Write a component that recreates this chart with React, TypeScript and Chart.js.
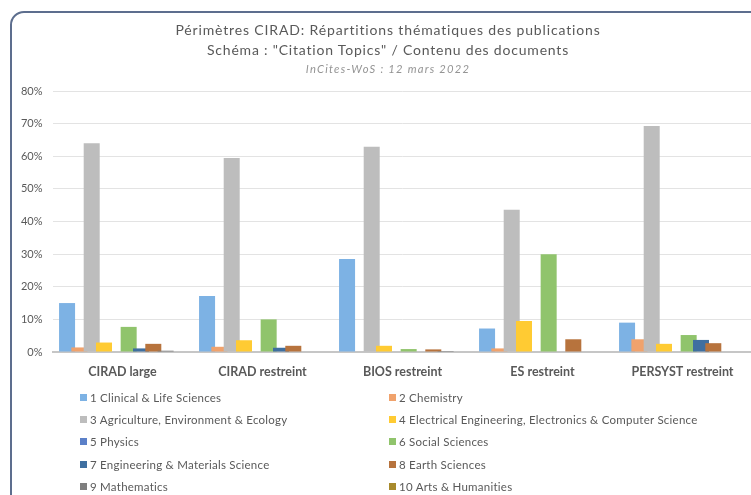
import React, { useEffect, useRef } from "react";
import { Chart, registerables } from "chart.js";

Chart.register(...registerables);

const categories = ["CIRAD large", "CIRAD restreint", "BIOS restreint", "ES restreint", "PERSYST restreint"];

const seriesNames = [
  "1 Clinical & Life Sciences",
  "2 Chemistry",
  "3 Agriculture, Environment & Ecology",
  "4 Electrical Engineering, Electronics & Computer Science",
  "5 Physics",
  "6 Social Sciences",
  "7 Engineering & Materials Science",
  "8 Earth Sciences",
  "9 Mathematics",
  "10 Arts & Humanities",
];

const seriesColors = [
  "#7db2e4",
  "#f0a26c",
  "#bdbdbd",
  "#ffcb33",
  "#5b80c8",
  "#90c46c",
  "#3f6fa0",
  "#b7733d",
  "#7f7f7f",
  "#a88a2c",
];

const clinical = [15.0, 17.2, 28.5, 7.2, 9.0];
const chemistry = [1.4, 1.6, 0, 1.1, 3.9];
const agriculture = [64.0, 59.5, 62.9, 43.6, 69.3];
const electrical = [2.9, 3.6, 1.9, 9.5, 2.5];
const physics = [0, 0, 0, 0, 0];
const social = [7.7, 10.0, 0.9, 30.0, 5.2];
const engineering = [1.1, 1.3, 0, 0, 3.7];
const earth = [2.5, 1.9, 0.8, 3.9, 2.7];
const mathematics = [0.4, 0, 0.3, 0, 0];
const arts = [0, 0, 0, 0, 0];

const seriesValues = [clinical, chemistry, agriculture, electrical, physics, social, engineering, earth, mathematics, arts];

const yMax = 80;
const yStep = 10;

const titleLine1 = "Périmètres CIRAD: Répartitions thématiques des publications";
const titleLine2 = 'Schéma : "Citation Topics" / Contenu des documents';
const subtitleText = "InCites-WoS : 12 mars 2022";

const FONT = "Lato, 'Open Sans', sans-serif";
const TEXT = "#595959";

const legendCols = [80, 389];
const legendRows = [397, 419, 441, 464, 486];

export default function App() {
  const canvasRef = useRef<HTMLCanvasElement | null>(null);

  useEffect(() => {
    const canvas = canvasRef.current;
    if (!canvas) return;

    const forwardDraw = {
      id: "forwardDraw",
      beforeDatasetsDraw(chart: any) {
        const metas = chart.getSortedVisibleDatasetMetas();
        for (const meta of metas) meta.controller.draw();
        return false;
      },
    };

    const chart = new Chart(canvas, {
      type: "bar",
      data: {
        labels: categories,
        datasets: seriesNames.map((name, i) => ({
          label: name,
          data: seriesValues[i],
          backgroundColor: seriesColors[i],
          borderWidth: 0,
          categoryPercentage: 0.88,
          barPercentage: 1.3,
        })),
      },
      options: {
        responsive: false,
        animation: false,
        devicePixelRatio: 1,
        layout: { padding: { left: 0, right: 12.5, top: 91, bottom: 103 } },
        plugins: {
          legend: { display: false },
          tooltip: { enabled: false },
          title: { display: false },
        },
        scales: {
          x: {
            grid: { display: false, drawTicks: false },
            border: { display: true, color: "#c6c6c6", width: 2 },
            ticks: {
              color: TEXT,
              font: { family: FONT, size: 12.5, weight: "bold" },
              padding: 12,
              maxRotation: 0,
              autoSkip: false,
            },
            afterFit(scale: any) {
              scale.height = 40;
            },
          },
          y: {
            min: 0,
            max: yMax,
            grid: { color: "#e3e3e3", lineWidth: 1, drawTicks: false },
            border: { display: false },
            ticks: {
              stepSize: yStep,
              color: TEXT,
              font: { family: FONT, size: 11 },
              padding: 10,
              callback: (v: any) => `${v}%`,
            },
            afterFit(scale: any) {
              scale.width = 52.5;
            },
          },
        },
      },
      plugins: [forwardDraw],
    });

    return () => chart.destroy();
  }, []);

  const titleStyle = (top: number, size: number, spacing: number, extra: any = {}) => ({
    position: "absolute" as const,
    left: 0,
    width: 776,
    top: top - 10,
    height: 20,
    lineHeight: "20px",
    textAlign: "center" as const,
    whiteSpace: "nowrap" as const,
    fontFamily: FONT,
    fontSize: size,
    letterSpacing: spacing,
    color: TEXT,
    ...extra,
  });

  return (
    <div
      style={{
        position: "fixed",
        left: 0,
        top: 0,
        width: 751,
        height: 495,
        overflow: "hidden",
        background: "#ffffff",
      }}
    >
      <div
        style={{
          position: "absolute",
          left: 10,
          top: 11,
          width: 800,
          height: 600,
          border: "2px solid #5d6e8e",
          borderRadius: 14,
          boxSizing: "border-box",
        }}
      />
      <canvas
        ref={canvasRef}
        width={765}
        height={495}
        style={{ position: "absolute", left: 0, top: 0, width: 765, height: 495 }}
      />
      <div style={titleStyle(30, 14, 0.85)}>{titleLine1}</div>
      <div style={titleStyle(50, 14, 0.8)}>{titleLine2}</div>
      <div style={titleStyle(69, 11.2, 1.25, { fontStyle: "italic", color: "#949494" })}>{subtitleText}</div>
      {seriesNames.map((name, i) => {
        const x = legendCols[i % 2];
        const y = legendRows[Math.floor(i / 2)];
        return (
          <div
            key={name}
            style={{
              position: "absolute",
              left: x,
              top: y - 8,
              height: 16,
              display: "flex",
              alignItems: "center",
              whiteSpace: "nowrap",
              fontFamily: FONT,
              fontSize: 11.5,
              letterSpacing: 0.25,
              color: TEXT,
            }}
          >
            <span
              style={{
                display: "inline-block",
                width: 7,
                height: 7,
                background: seriesColors[i],
                marginRight: 3,
              }}
            />
            <span>{name}</span>
          </div>
        );
      })}
    </div>
  );
}
